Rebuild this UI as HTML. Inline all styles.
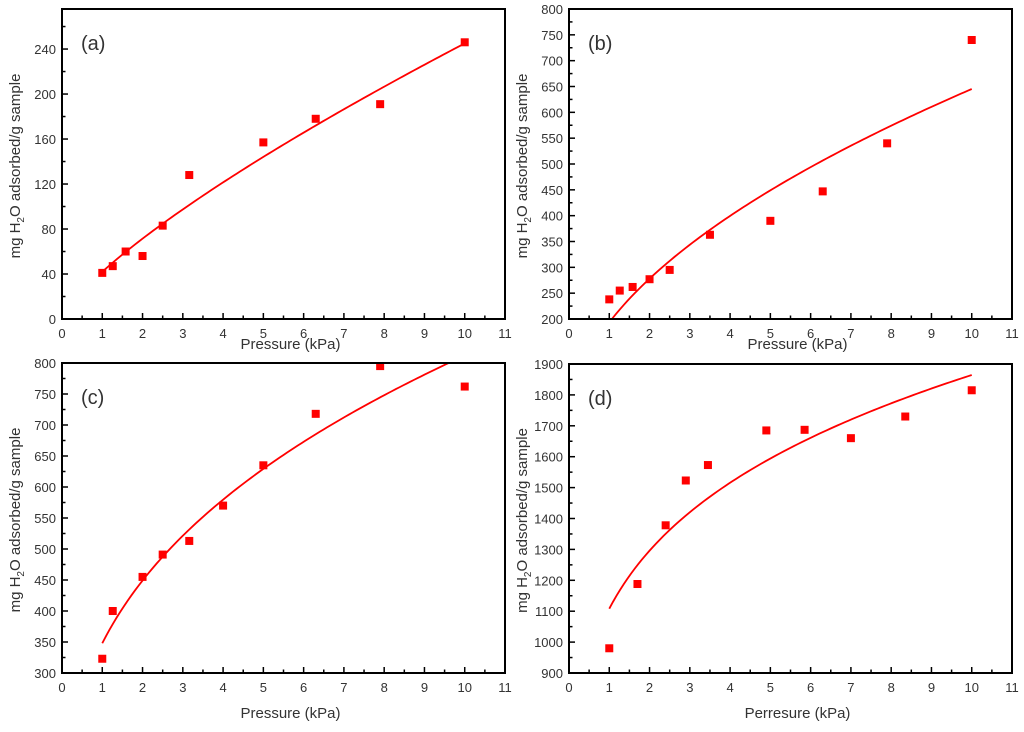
<!DOCTYPE html>
<html><head><meta charset="utf-8"><style>
html,body{margin:0;padding:0;background:#fff;}
svg text{font-family:"Liberation Sans",Arial,sans-serif;fill:#333;}
</style></head><body>
<svg id="c" width="1024" height="727" viewBox="0 0 1024 727" xmlns="http://www.w3.org/2000/svg"></svg>
<script>
const axAx = [1,1.26,1.58,2,2.5,3.16,5,6.3,7.9,10];
const axAy = [41,47,60,56,83,128,157,178,191,246];
const bxAx = [1,1.26,1.58,2,2.5,3.5,5,6.3,7.9,10];
const byAy = [238,255,262,277,295,363,390,447,540,740];
const cxAx = [1,1.26,2,2.5,3.16,4,5,6.3,7.9,10];
const cyAy = [323,400,455,491,513,570,635,718,795,762];
const dxAx = [1,1.7,2.4,2.9,3.45,4.9,5.85,7,8.35,10];
const dyAy = [980,1188,1378,1523,1573,1685,1687,1660,1730,1815];
const fitA = [42,0.766];
const fitB = [193.5,0.523];
const fitC = [348,0.368];
const fitD = [1108,0.226];
const xTicks = [0,1,2,3,4,5,6,7,8,9,10,11];
const yTicksA = [0,40,80,120,160,200,240];
const yTicksB = [200,250,300,350,400,450,500,550,600,650,700,750,800];
const yTicksC = [300,350,400,450,500,550,600,650,700,750,800];
const yTicksD = [900,1000,1100,1200,1300,1400,1500,1600,1700,1800,1900];

const NS="http://www.w3.org/2000/svg";
const svg=document.getElementById('c');
function mk(tag,attrs,parent){const e=document.createElementNS(NS,tag);for(const k in attrs)e.setAttribute(k,attrs[k]);(parent||svg).appendChild(e);return e;}

const panels=[
 {id:'a',L:62,R:505,T:9,B:319,ymin:0,ymax:275.6,yt:yTicksA,ym:20,xs:axAx,ys:axAy,fit:fitA,fx0:1,fx1:10,xt:'Pressure (kPa)',xty:349},
 {id:'b',L:569,R:1012,T:9,B:319,ymin:200,ymax:800,yt:yTicksB,ym:25,xs:bxAx,ys:byAy,fit:fitB,fx0:1,fx1:10,xt:'Pressure (kPa)',xty:349},
 {id:'c',L:62,R:505,T:363,B:673,ymin:300,ymax:800,yt:yTicksC,ym:25,xs:cxAx,ys:cyAy,fit:fitC,fx0:1,fx1:10,xt:'Pressure (kPa)',xty:718},
 {id:'d',L:569,R:1012,T:364,B:673,ymin:900,ymax:1900,yt:yTicksD,ym:50,xs:dxAx,ys:dyAy,fit:fitD,fx0:1,fx1:10,xt:'Perresure (kPa)',xty:718}
];
panels.forEach(p=>{
 const g=mk('g',{});
 
 
 const X=v=>p.L+(v/11)*(p.R-p.L);
 const Y=v=>p.B-(v-p.ymin)/(p.ymax-p.ymin)*(p.B-p.T);
 const cid='clip'+p.id;
 const cp=mk('clipPath',{id:cid},g);mk('rect',{x:p.L,y:p.T,width:p.R-p.L,height:p.B-p.T},cp);
 for(let v=0;v<=11;v+=0.5){const major=Number.isInteger(v);mk('line',{x1:X(v),x2:X(v),y1:p.B,y2:p.B-(major?6:3.5),stroke:'#000','stroke-width':1.5},g);}
 xTicks.forEach(v=>{const t=mk('text',{x:X(v),y:p.B+19,'text-anchor':'middle','font-size':13},g);t.textContent=v;});
 const step=p.yt[1]-p.yt[0];
 for(let v=p.ymin;v<=p.ymax+0.01;v+=p.ym){const major=Math.abs(((v-p.yt[0])/step)-Math.round((v-p.yt[0])/step))<1e-6;mk('line',{x1:p.L,x2:p.L+(major?6:3.5),y1:Y(v),y2:Y(v),stroke:'#000','stroke-width':1.5},g);}
 p.yt.forEach(v=>{const t=mk('text',{x:p.L-6,y:Y(v)+5,'text-anchor':'end','font-size':13},g);t.textContent=v;});
 let d='';for(let i=0;i<=100;i++){const x=p.fx0+(p.fx1-p.fx0)*i/100;const y=p.fit[0]*Math.pow(x,p.fit[1]);d+=(i?'L':'M')+X(x).toFixed(2)+','+Y(y).toFixed(2);}
 const fl=mk('path',{d:d,fill:'none',stroke:'#f00','stroke-width':1.8,'clip-path':'url(#'+cid+')'},g);
 
 
 p.xs.forEach((x,i)=>{const r=mk('rect',{x:X(x)-4,y:Y(p.ys[i])-4,width:8,height:8,fill:'#f00'},g);
  
  });
 mk('rect',{x:p.L,y:p.T,width:p.R-p.L,height:p.B-p.T,fill:'none',stroke:'#000','stroke-width':2},g);
 const lab=mk('text',{x:p.L+19,y:p.T+41,'font-size':20},g);lab.textContent='('+p.id+')';
 
 
 const xt=mk('text',{x:(p.L+p.R)/2+7,y:p.xty,'text-anchor':'middle','font-size':15},g);xt.textContent=p.xt;
 
 
 const cy=(p.T+p.B)/2+2, cx=p.L-42;
 const yt=mk('text',{x:0,y:0,'text-anchor':'middle','font-size':15,transform:'translate('+cx+','+cy+') rotate(-90)'},g);
 yt.innerHTML='mg H<tspan font-size="10" dy="4">2</tspan><tspan dy="-4">O adsorbed/g sample</tspan>';
 
 
});
</script>
</body></html>
